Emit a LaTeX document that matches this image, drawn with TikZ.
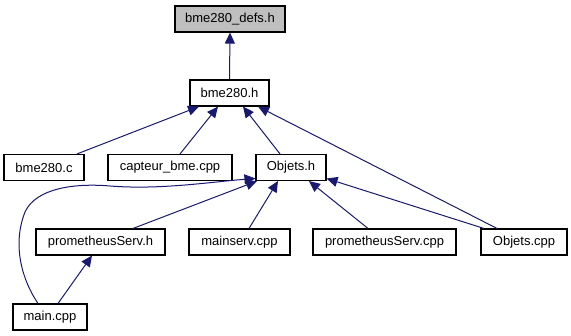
\documentclass[tikz,border=0pt]{standalone}
\usepackage{fontspec}
\setmainfont{Liberation Sans}
\usetikzlibrary{arrows.meta}
\definecolor{edgeblue}{HTML}{191970}
\definecolor{rootgrey}{HTML}{BFBFBF}
\tikzset{
  file/.style={draw=black, line width=1.1pt, fill=white, rectangle,
    minimum height=26pt, inner sep=0pt, font=\fontsize{13}{15}\selectfont},
  rootfile/.style={file, fill=rootgrey},
  dep/.style={draw=edgeblue, line width=1pt,
    -{Triangle[length=11pt,width=10pt]}, shorten >=0pt},
}
\begin{document}
\begin{tikzpicture}[x=1pt,y=-1pt]
\useasboundingbox (0,0) rectangle (571,336);
% files
\node[rootfile, minimum width=110pt] (defs) at (230,19) {bme280\_defs.h};
\node[file, minimum width=79pt] (bmeh) at (229.5,93) {bme280.h};
\node[file, minimum width=80pt] (bmec) at (44,167.5) {bme280.c};
\node[file, minimum width=124pt] (capteur) at (170,167.5) {capteur\_bme.cpp};
\node[file, minimum width=70pt] (objh) at (291,167.5) {Objets.h};
\node[file, minimum width=129pt] (promh) at (100.5,242) {prometheusServ.h};
\node[file, minimum width=101pt] (mainserv) at (239.5,242) {mainserv.cpp};
\node[file, minimum width=143pt] (promcpp) at (384.5,242) {prometheusServ.cpp};
\node[file, minimum width=86pt] (objcpp) at (524,242) {Objets.cpp};
\node[file, minimum width=74pt] (maincpp) at (50,317) {main.cpp};
% include dependencies
\draw[dep] (bmeh.north) -- (defs.south);
\draw[dep] ([xshift=33pt]bmec.north) -- ([xshift=-30.5pt]bmeh.south);
\draw[dep] ([xshift=10pt]capteur.north) -- ([xshift=-11.5pt]bmeh.south);
\draw[dep] ([xshift=-11pt]objh.north) -- ([xshift=13.5pt]bmeh.south);
\draw[dep] ([xshift=-27pt]objcpp.north) -- ([xshift=28.5pt]bmeh.south);
\draw[dep] ([xshift=32.5pt]promh.north) -- ([xshift=-34pt]objh.south);
\draw[dep] ([xshift=-12pt]maincpp.north)
  .. controls (22,280) and (12,245) .. (25,212)
  .. controls (36,188) and (75,183) .. (110,186)
  .. controls (160,190) and (210,182) .. ([yshift=-11pt]objh.west);
\draw[dep] ([xshift=9.5pt]mainserv.north) -- ([xshift=-13pt]objh.south);
\draw[dep] ([xshift=-16.5pt]promcpp.north) -- ([xshift=18pt]objh.south);
\draw[dep] ([xshift=-40pt]objcpp.north) -- ([yshift=-11pt]objh.east);
\draw[dep] ([xshift=8pt]maincpp.north) -- ([xshift=-8.5pt]promh.south);
\end{tikzpicture}
\end{document}
